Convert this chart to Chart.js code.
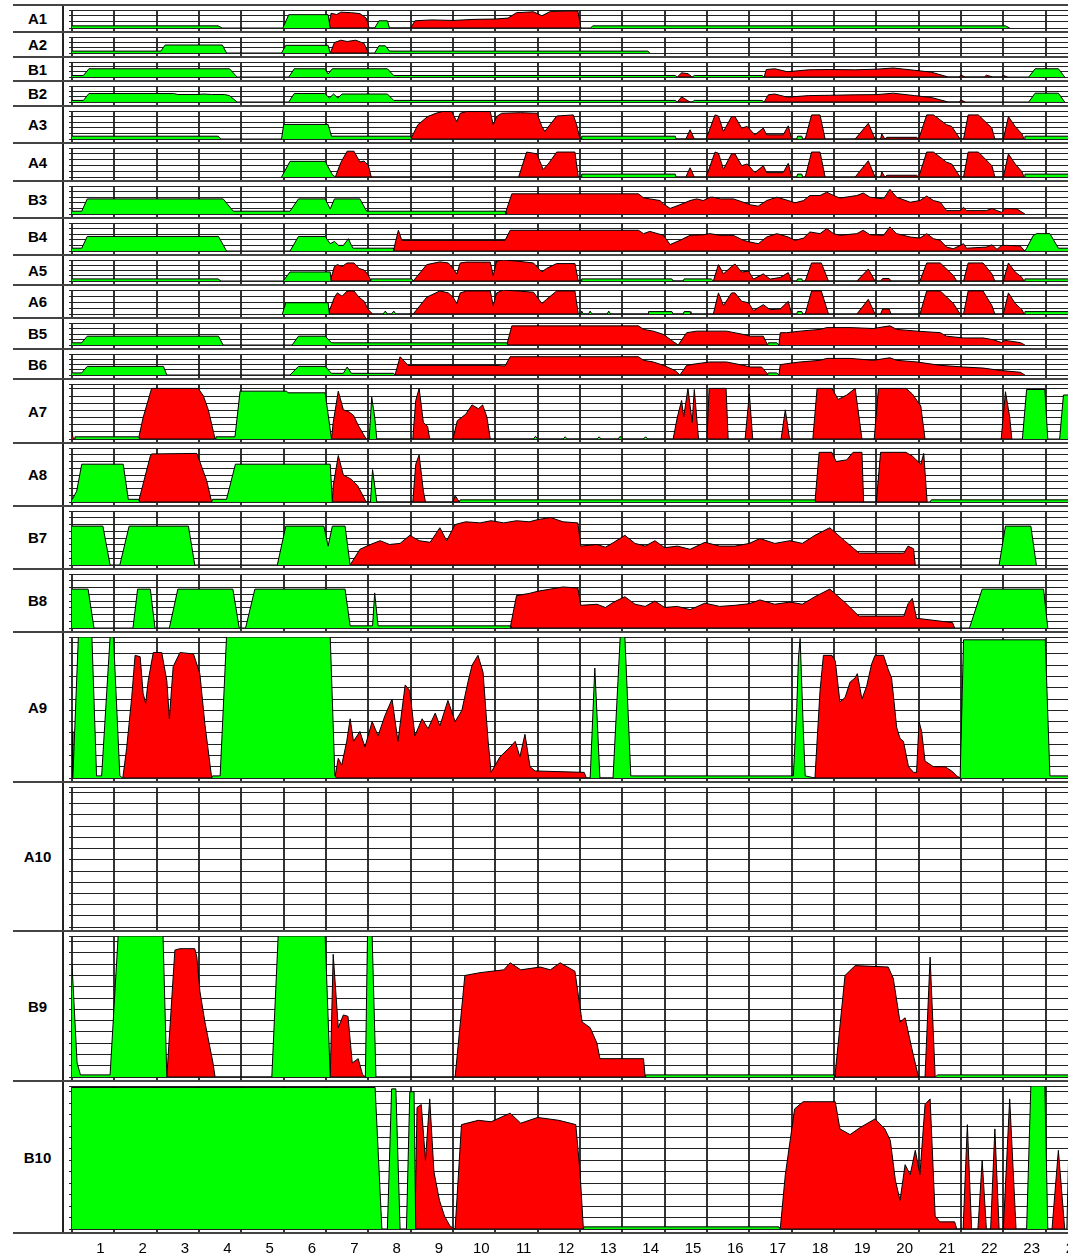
<!DOCTYPE html>
<html>
<head>
<meta charset="utf-8">
<script src="https://cdn.jsdelivr.net/npm/chart.js@4.4.0/dist/chart.umd.min.js"></script>
<style>
html, body { margin: 0; padding: 0; background: #fff; overflow: hidden; width: 1068px; height: 1255px; }
#wrap { position: absolute; left: 13px; top: 4px; width: 1100px; }
.row { display: flex; border-top: 2px solid #444; box-sizing: border-box; }
.lab { width: 49px; border-right: 2px solid #222; display: flex; align-items: center; justify-content: center;
       font: bold 15px 'Liberation Sans', Arial, sans-serif; color: #000; }
.row canvas { display: block; }
</style>
</head>
<body>
<div id="wrap"></div>
<script>
// hours on the x axis, labels under the last panel
const hourTicks = [0,1,2,3,4,5,6,7,8,9,10,11,12,13,14,15,16,17,18,19,20,21,22,23,24]
const hourLabels = [1,2,3,4,5,6,7,8,9,10,11,12,13,14,15,16,17,18,19,20,21,22,23,24]

const panelNames = ['A1','A2','B1','B2','A3','A4','B3','B4','A5','A6','B5','B6','A7','A8','B7','B8','A9','A10','B9','B10']

// series: flat lists of hour, value (% of panel height)
const a1Green = [0,12, 3.45,12, 3.55,0, 4.98,0, 5.12,74, 6.05,74, 6.1,0, 7.15,0, 7.25,40, 7.45,40, 7.5,0, 12.25,0, 12.3,12, 22.05,12, 22.15,0]
const a1Red = [6.05,0, 6.12,82, 6.25,75, 6.35,88, 6.6,85, 6.8,80, 6.95,55, 7.02,0, 8.0,0, 8.1,40, 8.5,45, 9.0,42, 9.5,48, 10.0,50, 10.3,55, 10.5,85, 10.9,90, 11.1,68, 11.3,92, 11.95,95, 12.02,0]

const a2Green = [0,12, 2.1,12, 2.2,50, 3.55,50, 3.65,0, 4.95,0, 5.05,48, 6.05,48, 6.1,0, 7.15,0, 7.25,45, 7.4,45, 7.5,12, 13.6,12, 13.65,0]
const a2Red = [6.1,0, 6.2,65, 6.35,80, 6.5,72, 6.7,80, 6.9,60, 7.0,0]

const b1Green = [0,10, 0.27,10, 0.4,55, 3.72,55, 3.9,0, 5.12,0, 5.25,55, 5.97,55, 6.05,20, 6.15,55, 7.45,55, 7.6,10, 14.25,10, 14.3,0, 14.65,0, 14.7,10, 16.3,10, 16.35,0, 22.6,0, 22.75,55, 23.3,55, 23.45,0]
const b1Red = [14.3,0, 14.4,28, 14.55,22, 14.65,0, 16.35,0, 16.4,50, 16.6,55, 16.9,35, 17.4,48, 17.9,50, 18.5,48, 19.0,52, 19.4,60, 19.9,45, 20.3,32, 20.7,0, 20.95,0, 21.0,12, 21.1,0, 21.55,0, 21.6,12, 21.75,0, 21.95,0, 22.0,10, 22.1,0]

const b2Green = [0,10, 0.27,10, 0.4,53, 2.4,53, 2.5,47, 3.0,47, 3.1,50, 3.3,47, 3.6,47, 3.72,40, 3.9,0, 5.12,0, 5.25,53, 5.97,53, 6.08,25, 6.18,50, 6.28,25, 6.38,50, 7.45,50, 7.6,10, 14.25,10, 14.3,0, 14.65,0, 14.7,10, 16.3,10, 16.35,0, 22.6,0, 22.75,55, 23.3,55, 23.45,0]
const b2Red = [14.3,0, 14.4,32, 14.6,0, 16.35,0, 16.45,45, 16.6,50, 16.9,30, 17.4,40, 17.9,42, 18.5,45, 19.0,46, 19.4,55, 19.9,40, 20.3,28, 20.7,0, 20.95,0, 21.0,12, 21.1,0]

const a3Green = [0,10, 3.45,10, 3.52,0, 4.95,0, 5.0,52, 6.05,52, 6.13,10, 8.0,10, 8.02,0, 12.03,0, 12.04,10, 14.25,10, 14.27,0, 17.12,0, 17.14,10, 17.24,10, 17.26,0, 22.49,0, 22.51,10, 24,10]
const a3Red = [8.0,0, 8.17,51, 8.4,80, 8.6,92, 8.75,98, 8.97,98, 9.09,62, 9.17,92, 9.32,98, 9.88,98, 9.95,51, 10.03,80, 10.15,92, 10.6,94, 10.98,92, 11.1,45, 11.17,27, 11.29,51, 11.45,82, 11.84,86, 11.92,51, 12.0,0, 14.5,0, 14.6,33, 14.7,0, 14.98,0, 15.19,86, 15.27,82, 15.39,27, 15.58,80, 15.66,80, 15.82,39, 15.95,45, 16.13,15, 16.33,39, 16.41,15, 16.8,15, 16.92,47, 17.0,0, 17.32,0, 17.47,86, 17.67,86, 17.79,0, 18.5,0, 18.81,56, 18.97,0, 19.1,0, 19.13,18, 19.2,0, 19.25,6, 19.95,6, 20.0,0, 20.19,86, 20.35,86, 20.66,51, 20.78,45, 20.98,0, 21.06,0, 21.17,86, 21.41,86, 21.73,39, 21.8,0, 22.0,0, 22.12,80, 22.28,45, 22.44,18, 22.49,0]

const a4Green = [4.95,0, 5.15,54, 5.98,54, 6.15,8, 6.22,0, 12.03,0, 12.04,10, 14.25,10, 14.27,0, 17.12,0, 17.14,10, 17.24,10, 17.26,0, 22.49,0, 22.51,10, 24,10]
const a4Red = [6.22,0, 6.35,50, 6.5,89, 6.66,89, 6.8,52, 6.9,55, 7.0,40, 7.07,0, 10.55,0, 10.74,86, 10.98,80, 11.13,26, 11.25,45, 11.45,86, 11.88,86, 11.96,0, 14.5,0, 14.6,32, 14.7,0, 14.98,0, 15.19,86, 15.27,82, 15.39,27, 15.58,80, 15.66,80, 15.82,39, 15.95,45, 16.13,15, 16.33,39, 16.41,15, 16.8,15, 16.92,47, 17.0,0, 17.32,0, 17.47,86, 17.67,86, 17.79,0, 18.5,0, 18.81,56, 18.97,0, 19.1,0, 19.13,18, 19.2,0, 19.25,6, 19.95,6, 20.0,0, 20.19,86, 20.35,86, 20.66,51, 20.78,45, 20.98,0, 21.06,0, 21.17,86, 21.41,86, 21.73,39, 21.8,0, 22.0,0, 22.12,80, 22.28,45, 22.44,18, 22.49,0]

const b3Green = [0,10, 0.23,10, 0.36,54, 3.57,54, 3.81,10, 5.15,10, 5.35,54, 5.98,54, 6.1,18, 6.2,54, 6.8,54, 6.96,10, 10.23,10, 10.25,0]
const b3Red = [10.23,0, 10.39,72, 13.38,72, 13.5,58, 13.65,54, 13.89,48, 13.97,36, 14.13,20, 14.36,33, 14.6,48, 14.76,54, 14.91,48, 15.07,60, 15.15,60, 15.31,54, 15.62,54, 15.86,42, 16.02,33, 16.21,28, 16.41,48, 16.65,60, 16.92,48, 17.08,40, 17.28,48, 17.43,66, 17.67,66, 17.83,78, 17.99,66, 18.14,57, 18.54,66, 18.69,75, 18.85,60, 19.17,54, 19.32,88, 19.48,60, 19.8,42, 20.03,48, 20.19,64, 20.35,48, 20.51,42, 20.66,12, 20.98,12, 21.06,24, 21.13,12, 21.6,12, 21.73,20, 21.85,12, 21.96,6, 22.04,20, 22.32,18, 22.51,0]

const b4Green = [0,10, 0.23,10, 0.36,52, 3.46,52, 3.65,0, 5.15,0, 5.35,52, 5.98,52, 6.1,26, 6.2,34, 6.3,20, 6.41,20, 6.53,44, 6.6,20, 6.64,10, 7.59,10, 7.6,0, 22.51,0, 22.55,10, 22.71,56, 22.79,62, 23.1,62, 23.3,10, 24,10]
const b4Red = [7.59,0, 7.71,74, 7.79,38, 10.23,38, 10.35,74, 13.38,74, 13.5,62, 13.65,70, 13.97,56, 14.13,23, 14.36,38, 14.6,56, 14.91,58, 15.07,62, 15.31,56, 15.62,56, 15.86,38, 16.02,32, 16.21,26, 16.41,50, 16.65,62, 16.92,50, 17.08,38, 17.28,46, 17.43,68, 17.67,62, 17.83,80, 17.99,62, 18.14,56, 18.54,62, 18.69,74, 18.85,58, 19.17,56, 19.32,86, 19.48,62, 19.8,50, 20.03,46, 20.19,62, 20.35,44, 20.51,38, 20.66,14, 20.82,8, 21.06,26, 21.13,10, 21.6,14, 21.73,22, 21.85,6, 21.96,20, 22.08,20, 22.4,18, 22.51,0]

const a5Green = [0,10, 3.45,10, 3.52,0, 4.99,0, 5.15,43, 6.1,43, 6.12,0, 7.04,0, 7.06,10, 8.03,10, 8.05,0, 12.03,0, 12.04,10, 14.17,10, 14.2,0, 14.44,0, 14.46,10, 15.1,10, 15.15,0, 17.12,0, 17.14,10, 17.24,10, 17.26,0, 22.49,0, 22.51,10, 24,10]
const a5Red = [6.1,0, 6.2,69, 6.27,78, 6.38,69, 6.5,86, 6.66,86, 6.78,60, 6.9,52, 6.98,34, 7.07,0, 8.06,0, 8.38,78, 8.69,91, 8.89,86, 9.0,60, 9.09,34, 9.17,86, 9.32,90, 9.88,90, 9.95,26, 10.03,95, 10.19,100, 10.5,95, 10.9,86, 11.1,43, 11.21,60, 11.45,83, 11.88,83, 11.96,0, 15.15,0, 15.27,78, 15.39,34, 15.58,69, 15.66,81, 15.82,43, 15.98,47, 16.1,9, 16.33,34, 16.49,9, 16.73,17, 16.92,40, 17.0,0, 17.32,0, 17.47,86, 17.7,86, 17.87,0, 18.54,0, 18.81,57, 18.97,0, 19.1,0, 19.15,12, 19.3,12, 19.35,0, 20.03,0, 20.19,86, 20.51,86, 20.82,26, 20.9,0, 21.06,0, 21.17,86, 21.52,86, 21.73,34, 21.8,0, 22.0,0, 22.12,86, 22.28,43, 22.44,17, 22.49,0]

const a6Green = [4.97,0, 5.05,47, 6.05,47, 6.08,0, 7.35,0, 7.4,12, 7.45,0, 7.55,0, 7.6,12, 7.65,0, 12.02,0, 12.04,12, 12.08,0, 12.2,0, 12.24,12, 12.28,0, 12.64,0, 12.68,12, 12.72,0, 13.61,0, 13.62,10, 14.17,10, 14.2,0, 14.44,0, 14.46,10, 14.6,10, 14.62,0, 17.12,0, 17.14,10, 17.24,10, 17.26,0, 22.49,0, 22.51,10, 24,10]
const a6Red = [6.05,0, 6.2,70, 6.27,88, 6.38,74, 6.5,96, 6.66,96, 6.78,70, 6.9,53, 7.0,18, 7.1,0, 8.06,0, 8.38,70, 8.69,96, 8.89,88, 9.0,70, 9.09,44, 9.17,88, 9.32,96, 9.88,96, 9.95,35, 10.03,88, 10.19,100, 10.5,96, 10.9,91, 11.1,44, 11.21,61, 11.45,96, 11.88,96, 11.96,0, 15.15,0, 15.27,88, 15.39,35, 15.58,88, 15.66,88, 15.82,53, 15.98,47, 16.1,14, 16.33,39, 16.49,18, 16.73,21, 16.92,53, 17.0,0, 17.32,0, 17.47,96, 17.7,96, 17.87,0, 18.54,0, 18.81,61, 18.97,0, 19.1,0, 19.15,21, 19.3,21, 19.35,0, 20.03,0, 20.19,96, 20.51,96, 20.82,44, 20.98,0, 21.06,0, 21.17,96, 21.52,96, 21.73,35, 21.8,0, 22.0,0, 22.12,88, 22.28,44, 22.44,18, 22.49,0]

const b5Green = [0,10, 0.23,10, 0.36,40, 3.46,40, 3.57,0, 5.2,0, 5.35,40, 5.98,40, 6.13,10, 10.27,10, 10.3,0, 16.43,0, 16.45,10, 16.65,10, 16.7,0]
const b5Red = [10.27,0, 10.39,87, 13.38,87, 13.5,71, 13.73,63, 13.97,48, 14.2,16, 14.32,0, 14.52,56, 14.76,63, 15.07,63, 15.46,63, 15.86,48, 16.02,40, 16.33,40, 16.41,8, 16.45,0, 16.7,0, 16.73,56, 16.88,56, 17.2,63, 17.67,71, 17.83,79, 18.38,79, 18.93,75, 19.32,87, 19.48,71, 19.96,63, 20.51,56, 20.66,40, 21.06,32, 21.52,32, 21.76,24, 21.96,11, 22.04,21, 22.4,11, 22.51,0]

const b6Green = [0,10, 0.23,10, 0.36,41, 2.16,41, 2.24,0, 5.15,0, 5.35,41, 5.98,41, 6.13,8, 6.41,8, 6.5,38, 6.6,8, 7.6,8, 7.63,0, 16.43,0, 16.45,10, 16.65,10, 16.7,0]
const b6Red = [7.63,0, 7.75,87, 7.94,46, 9.95,46, 10.23,43, 10.35,87, 13.38,87, 13.5,70, 13.73,62, 13.97,46, 14.25,21, 14.36,0, 14.52,46, 14.76,54, 15.07,62, 15.46,62, 15.86,46, 16.02,38, 16.29,38, 16.41,10, 16.45,0, 16.7,0, 16.73,49, 16.88,54, 17.2,62, 17.67,70, 17.83,79, 18.38,79, 18.93,70, 19.32,82, 19.48,70, 19.96,62, 20.51,46, 21.06,38, 21.52,33, 21.96,21, 22.4,13, 22.51,0]

const a7Green = [0.05,0, 0.07,4, 1.57,4, 1.6,0, 3.38,0, 3.4,4, 3.85,4, 3.97,87, 5.07,87, 5.1,84, 5.98,84, 6.13,0, 7.02,0, 7.08,76, 7.15,40, 7.2,0, 10.9,0, 10.95,5, 11.0,0, 11.6,0, 11.65,4, 11.7,0, 12.4,0, 12.45,4, 12.5,0, 12.9,0, 12.95,5, 13.0,0, 13.5,0, 13.55,4, 13.6,0, 22.45,0, 22.55,90, 22.98,90, 23.05,0, 23.33,0, 23.42,80, 23.6,80]
const a7Red = [0,13, 0.03,0, 1.57,0, 1.68,39, 1.88,92, 2.98,92, 3.1,79, 3.22,53, 3.38,0, 6.13,0, 6.17,30, 6.29,87, 6.41,53, 6.53,50, 6.65,43, 6.76,25, 6.95,0, 8.05,0, 8.12,70, 8.2,92, 8.3,30, 8.4,23, 8.45,0, 9.0,0, 9.1,33, 9.3,45, 9.45,62, 9.6,55, 9.7,62, 9.8,40, 9.88,0, 14.2,0, 14.3,40, 14.4,70, 14.45,40, 14.55,92, 14.65,30, 14.7,90, 14.8,0, 15.0,0, 15.05,92, 15.45,92, 15.5,0, 15.9,0, 16.0,82, 16.08,0, 16.75,0, 16.85,53, 16.95,0, 17.5,0, 17.6,92, 17.95,92, 18.1,72, 18.3,80, 18.5,92, 18.66,0, 18.95,0, 19.05,92, 19.7,92, 19.85,82, 20.05,60, 20.15,0, 21.95,0, 22.05,86, 22.15,40, 22.2,0]

const a8Green = [0,4, 0.11,20, 0.23,70, 1.21,70, 1.33,5, 1.57,5, 1.6,0, 3.3,0, 3.32,5, 3.65,5, 3.86,70, 6.1,70, 6.15,0, 7.05,0, 7.1,60, 7.2,0, 9.15,0, 9.17,4, 17.55,4, 17.57,0, 20.27,0, 20.3,4, 24,4]
const a8Red = [1.57,0, 1.85,85, 1.88,89, 2.95,90, 3.06,66, 3.18,40, 3.3,0, 6.15,0, 6.17,30, 6.29,86, 6.41,50, 6.6,42, 6.75,30, 6.95,0, 8.05,0, 8.12,70, 8.2,87, 8.3,20, 8.35,0, 9.0,0, 9.05,12, 9.15,0, 17.55,0, 17.65,92, 17.95,92, 18.05,75, 18.3,78, 18.45,92, 18.66,92, 18.7,0, 19.0,0, 19.1,92, 19.7,92, 19.85,85, 20.05,70, 20.12,90, 20.2,0]

const b7Green = [0,72, 0.73,72, 0.9,0, 1.13,0, 1.35,72, 2.75,72, 2.9,0, 4.85,0, 5.05,72, 5.95,72, 6.05,35, 6.15,72, 6.45,72, 6.57,0, 21.9,0, 22.05,72, 22.65,72, 22.78,0]
const b7Red = [6.57,0, 6.8,29, 7.05,38, 7.28,45, 7.5,38, 7.75,40, 7.98,55, 8.2,45, 8.46,42, 8.69,69, 8.85,45, 9.05,75, 9.3,80, 9.64,78, 9.9,82, 10.2,78, 10.5,82, 10.8,80, 11.0,84, 11.3,88, 11.6,80, 11.95,78, 12.02,35, 12.4,38, 12.6,33, 12.8,42, 13.06,55, 13.3,40, 13.54,35, 13.77,45, 14.0,32, 14.3,35, 14.6,29, 14.95,42, 15.3,35, 15.66,35, 16.0,40, 16.25,49, 16.6,40, 16.96,45, 17.25,40, 17.55,55, 17.9,69, 18.25,45, 18.55,25, 18.6,22, 19.65,22, 19.75,35, 19.88,30, 19.92,0]

const b8Green = [0,72, 0.38,72, 0.52,0, 1.44,0, 1.55,72, 1.85,72, 1.96,0, 2.3,0, 2.5,72, 3.8,72, 3.95,0, 4.1,0, 4.32,72, 6.45,72, 6.57,4, 7.1,4, 7.15,65, 7.23,4, 10.35,4, 10.37,0, 21.2,0, 21.5,72, 22.95,72, 23.05,0]
const b8Red = [10.35,0, 10.5,60, 10.8,64, 11.0,68, 11.3,72, 11.6,76, 11.95,74, 12.02,42, 12.4,44, 12.6,38, 12.8,48, 13.06,58, 13.3,44, 13.54,40, 13.77,50, 14.0,38, 14.3,40, 14.6,34, 14.95,46, 15.3,40, 15.66,42, 16.0,45, 16.25,52, 16.6,44, 16.96,48, 17.25,44, 17.55,58, 17.9,72, 18.25,48, 18.55,25, 18.6,22, 19.65,22, 19.75,45, 19.85,55, 19.95,18, 20.8,10, 20.85,0]

const a9Green = [0.02,0, 0.15,100, 0.47,100, 0.58,1.5, 0.7,1.5, 0.9,100, 0.98,100, 1.13,1.5, 1.2,0, 3.3,0, 3.32,1.5, 3.5,1.5, 3.65,100, 6.1,100, 6.21,1.5, 6.25,0, 12.24,0, 12.35,78, 12.47,0, 12.78,0, 12.95,100, 13.06,100, 13.2,1.5, 17.04,1.5, 17.12,50, 17.16,85, 17.2,99, 17.28,30, 17.32,1.5, 17.55,0, 20.98,0, 21.06,98, 22.99,98, 23.1,1.5, 24,1.5]
const a9Red = [0,33, 0.02,0, 1.2,0, 1.29,21, 1.41,57, 1.49,87, 1.61,86, 1.68,60, 1.74,53, 1.8,69, 1.92,89, 2.12,89, 2.24,69, 2.3,42, 2.39,79, 2.55,89, 2.87,88, 3.02,74, 3.14,38, 3.3,0, 6.21,0, 6.29,14, 6.37,9, 6.49,26, 6.57,42, 6.65,26, 6.8,33, 6.92,22, 7.09,40, 7.23,30, 7.39,44, 7.56,56, 7.7,26, 7.87,66, 7.98,62, 8.1,30, 8.27,42, 8.41,35, 8.58,46, 8.69,37, 8.88,55, 9.05,40, 9.21,48, 9.36,69, 9.45,80, 9.59,87, 9.71,75, 9.83,26, 9.9,4, 10.11,15, 10.35,22, 10.47,26, 10.58,15, 10.7,31, 10.82,8, 10.94,5, 12.1,4, 12.15,0, 17.55,0, 17.67,62, 17.75,87, 17.95,87, 18.03,83, 18.14,54, 18.26,57, 18.38,68, 18.5,71, 18.55,74, 18.66,56, 18.77,65, 18.89,81, 18.97,87, 19.17,87, 19.28,77, 19.36,71, 19.48,36, 19.56,28, 19.64,26, 19.76,8, 19.88,4, 19.95,4, 20.01,40, 20.07,33, 20.15,12, 20.35,8, 20.62,8, 20.78,5, 20.9,1.5, 20.98,0]

const a10Green = []
const a10Red = []

const b9Green = [0,80, 0.12,10, 0.2,1.5, 0.9,1.5, 1.09,100, 2.15,100, 2.24,0, 4.72,0, 4.87,100, 5.98,100, 6.1,0, 6.93,0, 6.98,100, 7.09,100, 7.18,0, 13.54,0, 13.55,1.5, 18.0,1.5, 18.02,0, 20.39,0, 20.45,1.5, 24,1.5]
const b9Red = [2.24,0, 2.43,90, 2.55,91, 2.9,91, 2.95,85, 3.02,61, 3.14,39, 3.33,10, 3.38,0, 6.1,0, 6.17,87, 6.29,35, 6.41,44, 6.52,43, 6.62,10, 6.76,13, 6.86,2, 6.93,0, 9.05,0, 9.28,72, 9.64,74, 10.2,76, 10.35,81, 10.6,76, 11.06,78, 11.3,76, 11.53,81, 11.88,75, 12.05,39, 12.24,35, 12.4,24, 12.47,13, 13.5,13, 13.54,0, 18.02,0, 18.26,72, 18.5,79, 19.28,78, 19.4,70, 19.56,39, 19.68,42, 19.84,20, 19.98,2, 20.0,0, 20.15,0, 20.27,85, 20.39,0]

const b10Green = [0,99, 7.16,99, 7.32,0, 7.45,0, 7.55,98, 7.65,98, 7.75,0, 7.9,0, 7.98,96, 8.08,96, 8.12,0, 12.08,0, 12.1,1.5, 16.7,1.5, 16.73,0, 22.55,0, 22.65,100, 22.98,100, 23.05,0, 23.5,0, 23.55,60, 23.7,60]
const b10Red = [8.1,0, 8.15,85, 8.25,87, 8.35,48, 8.45,91, 8.55,40, 8.68,20, 8.8,9, 8.93,2, 9.05,0, 9.2,73, 9.6,76, 9.9,75, 10.35,81, 10.6,74, 11.0,78, 11.5,76, 11.9,73, 12.0,40, 12.08,0, 16.73,0, 16.85,38, 17.07,84, 17.27,89, 18.03,89, 18.14,70, 18.38,66, 18.62,71, 18.97,77, 19.2,70, 19.33,62, 19.45,34, 19.56,20, 19.68,45, 19.8,38, 19.92,55, 20.03,38, 20.15,87, 20.27,91, 20.39,9, 20.5,5, 20.85,5, 20.9,0, 21.05,0, 21.15,73, 21.25,0, 21.4,0, 21.5,48, 21.6,0, 21.7,0, 21.8,70, 21.9,0, 22.0,0, 22.15,91, 22.3,0, 23.15,0, 23.3,55, 23.45,0]

const greens = [a1Green, a2Green, b1Green, b2Green, a3Green, a4Green, b3Green, b4Green, a5Green, a6Green, b5Green, b6Green, a7Green, a8Green, b7Green, b8Green, a9Green, a10Green, b9Green, b10Green]
const reds = [a1Red, a2Red, b1Red, b2Red, a3Red, a4Red, b3Red, b4Red, a5Red, a6Red, b5Red, b6Red, a7Red, a8Red, b7Red, b8Red, a9Red, a10Red, b9Red, b10Red]

// layout: row heights (px) and horizontal grid step per panel
const rowHeights = [27,25,24,25,37,38,37,37,30,33,31,30,64,63,63,63,150,149,150,152]
const gridSteps = [33.34,33.34,33.34,33.34,20,20,20,20,25,25,25,25,13,12.5,12.5,12.5,8,8,8,8]

const pts = list => {
  const out = []
  for ( let i = 0; i < list.length; i += 2 ) out.push( { x: list[i], y: list[i + 1] } )
  return out
}

const yTicks = step => {
  const t = []
  for ( let v = 0; v < 99.5; v += step ) t.push( { value: v } )
  t.push( { value: 100 } )
  return t
}

const areaSet = ( list, color ) => ( {
  data: pts( list ),
  backgroundColor: color,
  borderColor: '#000',
  borderWidth: 1,
  fill: 'origin',
  pointRadius: 0,
  tension: 0
} )

const wrap = document.getElementById( 'wrap' )

panelNames.forEach( ( name, i ) => {
  const row = document.createElement( 'div' )
  row.className = 'row'
  row.style.height = rowHeights[i] + 'px'
  const lab = document.createElement( 'div' )
  lab.className = 'lab'
  lab.textContent = name
  const canvas = document.createElement( 'canvas' )
  canvas.width = 1040
  canvas.height = rowHeights[i] - 2
  row.appendChild( lab )
  row.appendChild( canvas )
  wrap.appendChild( row )

  new Chart( canvas, {
    type: 'line',
    data: { datasets: [ areaSet( greens[i], '#00ff00' ), areaSet( reds[i], '#ff0000' ) ] },
    options: {
      responsive: false,
      animation: false,
      events: [],
      layout: { padding: { top: 4, right: 16, bottom: 0, left: 0 } },
      plugins: { legend: { display: false }, tooltip: { enabled: false } },
      scales: {
        x: {
          type: 'linear', min: 0, max: 24,
          afterBuildTicks: s => { s.ticks = hourTicks.map( v => ( { value: v } ) ) },
          afterFit: s => { s.height = 3 },
          ticks: { display: false },
          grid: { color: '#333', lineWidth: 2, tickLength: 3 },
          border: { color: '#222', width: 1 }
        },
        y: {
          min: 0, max: 100,
          afterBuildTicks: s => { s.ticks = yTicks( gridSteps[i] ) },
          afterFit: s => { s.width = 8 },
          ticks: { display: false },
          grid: { color: '#222', lineWidth: 1, tickLength: 3 },
          border: { display: false }
        }
      }
    }
  } )
} )

// hour labels strip: a taller transparent canvas that reaches up behind the last panel,
// so the axis box is not squeezed by the layout
const axisRow = document.createElement( 'div' )
axisRow.className = 'row'
axisRow.style.height = '23px'
axisRow.style.position = 'relative'
const axisCanvas = document.createElement( 'canvas' )
axisCanvas.width = 1040
axisCanvas.height = 61
axisCanvas.style.position = 'absolute'
axisCanvas.style.left = '51px'
axisCanvas.style.top = '-36px'
axisRow.appendChild( axisCanvas )
wrap.appendChild( axisRow )

new Chart( axisCanvas, {
  type: 'line',
  data: { datasets: [] },
  options: {
    responsive: false,
    animation: false,
    events: [],
    layout: { padding: { top: 0, right: 16, bottom: 1, left: 8 } },
    plugins: { legend: { display: false }, tooltip: { enabled: false } },
    scales: {
      x: {
        type: 'linear', min: 0, max: 24,
        afterBuildTicks: s => { s.ticks = hourLabels.map( v => ( { value: v } ) ) },
        grid: { display: false, drawTicks: false },
        border: { display: false },
        ticks: {
          color: '#000', padding: 0, labelOffset: -14, maxRotation: 0, autoSkip: false,
          font: { family: "'Liberation Sans Narrow', 'Liberation Sans', sans-serif", size: 15 },
          callback: v => String( v )
        }
      },
      y: { display: false, min: 0, max: 1 }
    }
  }
} )
</script>
</body>
</html>
